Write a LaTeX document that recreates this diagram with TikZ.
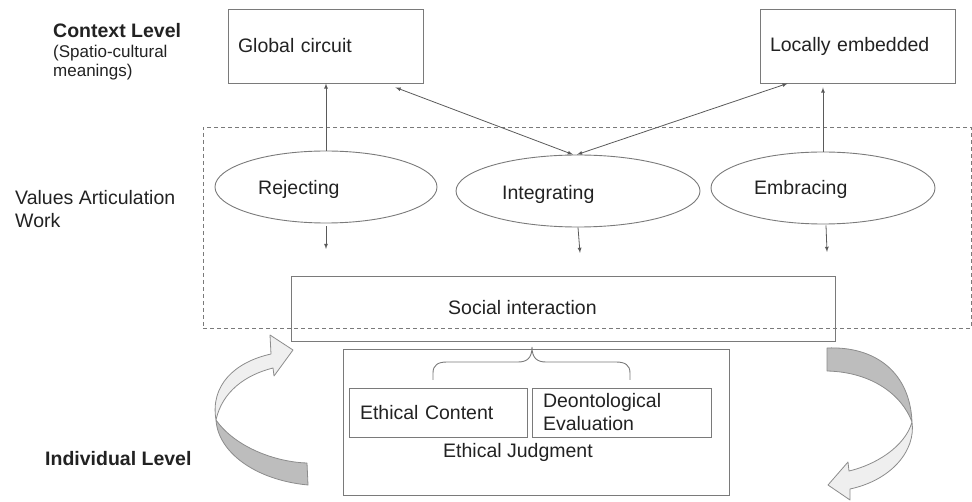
\documentclass[tikz,border=0pt]{standalone}
\usepackage{fontspec}
\setmainfont{Liberation Sans}
\usepackage{xcolor}
\usetikzlibrary{arrows,shapes.geometric}

\definecolor{edgegray}{HTML}{7A7A7A}
\definecolor{arrowgray}{HTML}{5A5A5A}
\definecolor{inkgray}{HTML}{222222}
\definecolor{ribbonlight}{HTML}{EFEFEF}
\definecolor{ribbondark}{HTML}{BDBDBD}
\definecolor{ribbonedge}{HTML}{8C8C8C}

\begin{document}
\begin{tikzpicture}[x=1pt, y=-1pt, font=\fontsize{19.5}{23}\selectfont, text=inkgray,
  box/.style={draw=edgegray, line width=0.9pt, rectangle, inner sep=0pt},
  textbox/.style={box, align=left, inner xsep=10pt},
  oval/.style={draw=edgegray, line width=0.9pt, ellipse, inner sep=0pt, minimum height=72pt},
  dashbox/.style={draw=edgegray, line width=0.9pt, dash pattern=on 4pt off 3pt, inner sep=0pt},
  txt/.style={inner sep=0pt, anchor=base west},
  heading/.style={txt, font=\fontsize{19.5}{23}\selectfont\bfseries},
  link/.style={draw=arrowgray, line width=0.8pt, >=latex},
  ribbon/.style={draw=ribbonedge, line width=0.8pt, line join=round}]

\useasboundingbox (0,0) rectangle (972,502);

\node[heading] at (53,38) {Context Level};
\node[txt, font=\fontsize{17}{19}\selectfont] at (53,58) {(Spatio-cultural};
\node[txt, font=\fontsize{17}{19}\selectfont] at (53,77) {meanings)};
\node[txt] at (15,205) {Values Articulation};
\node[txt] at (15,228) {Work};
\node[heading] at (45,465) {Individual Level};

\node[textbox, minimum width=195pt, minimum height=74pt, text width=175pt] (glob) at (325.5,46) {Global circuit};
\node[textbox, minimum width=195pt, minimum height=74pt, text width=175pt] (loc) at (857.5,46) {Locally embedded};

\node[dashbox, minimum width=768pt, minimum height=201pt] (vaw) at (587,227.5) {};

\node[oval, minimum width=222pt] (rej) at (326,187) {};
\node[oval, minimum width=244pt] (integ) at (578,191) {};
\node[oval, minimum width=224pt] (emb) at (823,188) {};
\node[txt] at (258,195) {Rejecting};
\node[txt] at (502,200) {Integrating};
\node[txt] at (754,195) {Embracing};

\draw[link, ->] (rej.north) -- (rej.north |- glob.south);
\draw[link, ->] (emb.north) -- ([yshift=-4pt]emb.north |- loc.south);
\draw[link, <->] ([xshift=-28pt, yshift=-4pt]glob.south east) -- ([xshift=-5pt]integ.north);
\draw[link, <->] ([xshift=28pt]loc.south west) -- ([xshift=-1pt]integ.north);

\coordinate (rejout) at (326,249);
\coordinate (integout) at (580,253);
\coordinate (embout) at (827,252);
\draw[link, ->] ([yshift=-3pt]rej.south) -- (rejout);
\draw[link, ->] (integ.south) -- (integout);
\draw[link, ->] ([xshift=3pt, yshift=-1pt]emb.south) -- (embout);

\node[box, minimum width=544pt, minimum height=65pt] (soc) at (563,308.5) {};
\node[txt] at (448,315) {Social interaction};

\node[box, minimum width=386pt, minimum height=146pt] (ej) at (536,422) {};
\node[textbox, inner xsep=11pt, minimum width=178pt, minimum height=49pt, text width=156pt] (ec) at (438,412.5) {Ethical Content};
\node[textbox, inner xsep=11pt, minimum width=179pt, minimum height=49pt, text width=157pt] (de) at (621.5,412.5) {Deontological\\Evaluation};
\node[txt] at (443,457) {Ethical Judgment};

\draw[draw=edgegray, line width=0.9pt] (433,380) -- (433,373) .. controls (433,365) and (438,362) .. (447,362) -- (518,362) .. controls (527,362) and (532,358) .. (532,347)
  .. controls (532,358) and (537,362) .. (546,362) -- (616,362) .. controls (625,362) and (630,365) .. (630,373) -- (630,380);

\draw[ribbon, fill=ribbondark] (216,420) .. controls (218,452) and (255,480) .. (308,485) -- (307,463) .. controls (275,462) and (235,447) .. (216,420) -- cycle;
\draw[ribbon, fill=ribbonlight] (216,420) .. controls (210,385) and (235,362) .. (271,354) -- (270,335) -- (293,350) -- (274,376) -- (273,368) .. controls (245,375) and (222,392) .. (216,420) -- cycle;

\draw[ribbon, fill=ribbondark] (827,348) .. controls (875,346) and (910,372) .. (912,422) .. controls (902,395) and (872,372) .. (827,371) -- cycle;
\draw[ribbon, fill=ribbonlight] (912,422) .. controls (916,450) and (892,480) .. (850,489) -- (850,500) -- (828,485) -- (848,462) -- (849,471) .. controls (875,465) and (905,447) .. (912,422) -- cycle;

\end{tikzpicture}
\end{document}
